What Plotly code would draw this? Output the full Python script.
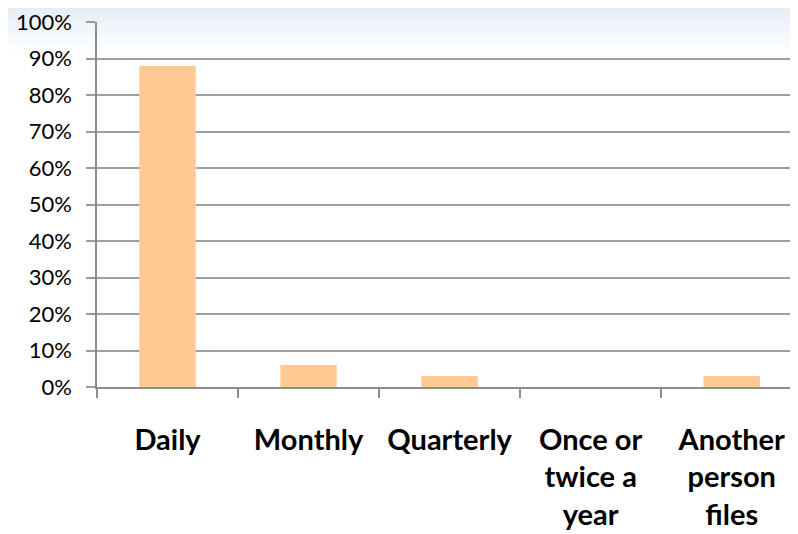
import plotly.graph_objects as go

categories = ["Daily", "Monthly", "Quarterly", "Once or<br>twice a<br>year", "Another<br>person<br>files"]
values = [0.88, 0.06, 0.03, 0.0, 0.03]
y_ticks = [0, 0.1, 0.2, 0.3, 0.4, 0.5, 0.6, 0.7, 0.8, 0.9, 1.0]
y_tick_labels = ["0%", "10%", "20%", "30%", "40%", "50%", "60%", "70%", "80%", "90%", "100%"]

# page has an 8px body margin; size the figure so the plot lands where the reference has it
W, H = 790, 526
L, T, B = 89, 14, 147
plot_h = H - T - B

fig = go.Figure()
fig.add_trace(go.Bar(
    x=categories, y=values, width=0.4,
    marker=dict(color="#FFC993", line=dict(width=0)),
    hoverinfo="x+y",
))

# light gradient at top of the background
shapes = []
n = 14
top_px, bot_px = 0, 48
c0 = (229, 237, 246)
c1 = (255, 255, 255)
for i in range(n):
    y0p = top_px + (bot_px - top_px) * i / n
    y1p = top_px + (bot_px - top_px) * (i + 1) / n
    f = i / (n - 1)
    col = tuple(int(round(c0[k] + (c1[k] - c0[k]) * f)) for k in range(3))
    shapes.append(dict(
        type="rect", xref="paper", yref="paper", layer="below",
        x0=-L / (W - L), x1=1.02,
        y0=(H - B - y1p) / plot_h, y1=(H - B - y0p) / plot_h,
        fillcolor="rgb(%d,%d,%d)" % col, line=dict(width=0),
    ))

fig.update_layout(
    width=W, height=H,
    margin=dict(l=L, r=0, t=T, b=B, pad=0, autoexpand=False),
    paper_bgcolor="white",
    plot_bgcolor="rgba(0,0,0,0)",
    showlegend=False,
    shapes=shapes,
    font=dict(family="Lato", color="black"),
)
fig.update_xaxes(
    range=[-0.5, 4.47],
    tickson="boundaries",
    ticks="outside", ticklen=9, tickwidth=1.5, tickcolor="#8C8C8C",
    showline=True, linecolor="#8C8C8C", linewidth=1.5,
    showgrid=False,
    tickfont=dict(family="Lato", size=29, color="black", weight="bold"),
    ticklabelstandoff=26,
    tickangle=0,
    automargin=False,
    fixedrange=True,
)
fig.update_yaxes(
    range=[0, 1.0005],
    tickvals=y_ticks, ticktext=y_tick_labels,
    ticks="outside", ticklen=9, tickwidth=1.5, tickcolor="#9A9A9A",
    showline=True, linecolor="#8C8C8C", linewidth=1.5,
    showgrid=True, gridcolor="#A0A0A0", gridwidth=1.5,
    zeroline=False,
    tickfont=dict(family="Lato", size=22, color="black"),
    ticklabelstandoff=10,
    ticklabeloverflow="allow",
    automargin=False,
    fixedrange=True,
)

fig.write_html("out.html")
